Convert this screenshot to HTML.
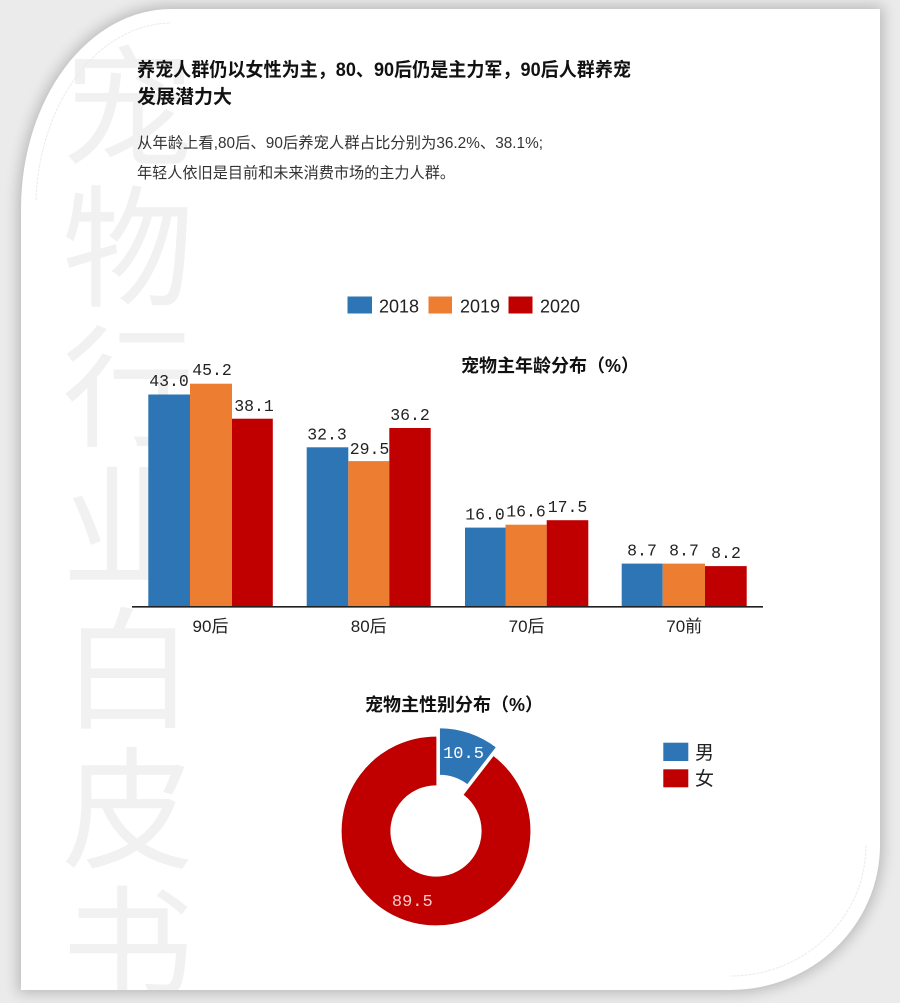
<!DOCTYPE html>
<html>
<head>
<meta charset="utf-8">
<style>
  html,body{margin:0;padding:0;}
  body{width:900px;height:1003px;background:#ebebeb;position:relative;overflow:hidden;}
  .card{position:absolute;left:21px;top:9px;width:859px;height:981px;background:#fff;
    border-radius:150px 0 150px 0 / 200px 0 145px 0;
    box-shadow:0 0 14px 3px rgba(0,0,0,0.22);overflow:hidden;}
  .card svg{position:absolute;left:0;top:0;}
  text{font-family:"Liberation Sans","Noto Sans CJK SC",sans-serif;}
  .mono{font-family:"Liberation Mono","Noto Sans CJK SC",monospace;}
</style>
</head>
<body>
<div class="card">
<svg width="859" height="981" viewBox="21 9 859 981" xmlns="http://www.w3.org/2000/svg">
  <!-- watermark -->
  <g fill="#f1f1f1" font-size="132" font-weight="normal" text-anchor="middle">
    <text x="128" y="156">宠</text>
    <text x="128" y="296">物</text>
    <text x="128" y="436">行</text>
    <text x="128" y="576">业</text>
    <text x="128" y="718">白</text>
    <text x="128" y="858">皮</text>
    <text x="128" y="996">书</text>
  </g>
  <!-- inner faint arcs -->
  <path d="M 36 200 A 136 186 0 0 1 171 23" fill="none" stroke="#ebebeb" stroke-width="1" stroke-dasharray="3 1"/>
  <path d="M 866 845 A 136 131 0 0 1 730 976" fill="none" stroke="#ebebeb" stroke-width="1" stroke-dasharray="3 1"/>

  <!-- header -->
  <text x="137" y="76" font-size="19" font-weight="bold" fill="#111" textLength="494" lengthAdjust="spacingAndGlyphs">养宠人群仍以女性为主，80、90后仍是主力军，90后人群养宠</text>
  <text x="137" y="103" font-size="19" font-weight="bold" fill="#111">发展潜力大</text>
  <text x="137" y="148" font-size="15.5" fill="#333" textLength="406" lengthAdjust="spacingAndGlyphs">从年龄上看,80后、90后养宠人群占比分别为36.2%、38.1%;</text>
  <text x="137" y="178" font-size="15.5" fill="#333" textLength="318" lengthAdjust="spacingAndGlyphs">年轻人依旧是目前和未来消费市场的主力人群。</text>

  <!-- bar legend -->
  <rect x="347.5" y="296.5" width="24.5" height="17" fill="#2e75b6"/>
  <text x="379" y="312.5" font-size="18" fill="#222">2018</text>
  <rect x="428.5" y="296.5" width="23.5" height="17" fill="#ed7d31"/>
  <text x="460" y="312.5" font-size="18" fill="#222">2019</text>
  <rect x="508.5" y="296.5" width="24" height="17" fill="#c00000"/>
  <text x="540" y="312.5" font-size="18" fill="#222">2020</text>

  <!-- bar title -->
  <text x="461" y="372" font-size="18" font-weight="bold" fill="#111">宠物主年龄分布（%）</text>

  <!-- bars -->
  <g>
    <rect x="148.3" y="394.5" width="41.7" height="212" fill="#2e75b6"/>
    <rect x="190" y="383.7" width="42" height="222.8" fill="#ed7d31"/>
    <rect x="232" y="418.7" width="40.8" height="187.8" fill="#c00000"/>

    <rect x="306.7" y="447.3" width="41.6" height="159.2" fill="#2e75b6"/>
    <rect x="348.3" y="461.1" width="41" height="145.4" fill="#ed7d31"/>
    <rect x="389.3" y="428" width="41.4" height="178.5" fill="#c00000"/>

    <rect x="465" y="527.6" width="40.5" height="78.9" fill="#2e75b6"/>
    <rect x="505.5" y="524.7" width="41.2" height="81.8" fill="#ed7d31"/>
    <rect x="546.7" y="520.2" width="41.6" height="86.3" fill="#c00000"/>

    <rect x="621.7" y="563.6" width="41" height="42.9" fill="#2e75b6"/>
    <rect x="662.7" y="563.6" width="42.3" height="42.9" fill="#ed7d31"/>
    <rect x="705" y="566.1" width="41.7" height="40.4" fill="#c00000"/>
  </g>
  <line x1="132" y1="606.8" x2="763" y2="606.8" stroke="#222" stroke-width="1.6"/>

  <!-- bar labels -->
  <g class="mono" font-size="16.5" fill="#222" text-anchor="middle">
    <text class="mono" x="169" y="386">43.0</text>
    <text class="mono" x="212" y="375">45.2</text>
    <text class="mono" x="254" y="411">38.1</text>

    <text class="mono" x="327" y="439.5">32.3</text>
    <text class="mono" x="369.5" y="454">29.5</text>
    <text class="mono" x="410" y="420">36.2</text>

    <text class="mono" x="485" y="519.5">16.0</text>
    <text class="mono" x="526" y="516.5">16.6</text>
    <text class="mono" x="567.5" y="512">17.5</text>

    <text class="mono" x="642" y="555.5">8.7</text>
    <text class="mono" x="684" y="555.5">8.7</text>
    <text class="mono" x="726" y="558">8.2</text>
  </g>

  <!-- category labels -->
  <g font-size="17" fill="#222" text-anchor="middle">
    <text x="210.5" y="632">90后</text>
    <text x="368.7" y="632">80后</text>
    <text x="526.6" y="632">70后</text>
    <text x="684.2" y="632">70前</text>
  </g>

  <!-- donut title -->
  <text x="365" y="711" font-size="18" font-weight="bold" fill="#111">宠物主性别分布（%）</text>

  <!-- donut -->
  <path d="M 493.6 756.7 A 94 94 0 1 1 436 737 L 436 785 A 46 46 0 1 0 464.2 794.65 Z" fill="#c00000" stroke="#b80000" stroke-width="0.8"/>
  <path d="M 439.2 727.5 A 94 94 0 0 1 496.8 747.2 L 467.4 785.15 A 46 46 0 0 0 439.2 775.5 Z" fill="#2e75b6" stroke="#fff" stroke-width="1.5"/>
  <text class="mono" x="463.5" y="758" font-size="17" fill="#fff" text-anchor="middle">10.5</text>
  <text class="mono" x="412.3" y="906" font-size="17" fill="#f6cccc" text-anchor="middle">89.5</text>

  <!-- donut legend -->
  <rect x="663.3" y="742.7" width="25" height="18.3" fill="#2e75b6"/>
  <text x="695" y="759" font-size="19" fill="#222">男</text>
  <rect x="663.3" y="769.3" width="25" height="18" fill="#c00000"/>
  <text x="695" y="785" font-size="19" fill="#222">女</text>
</svg>
</div>
</body>
</html>
